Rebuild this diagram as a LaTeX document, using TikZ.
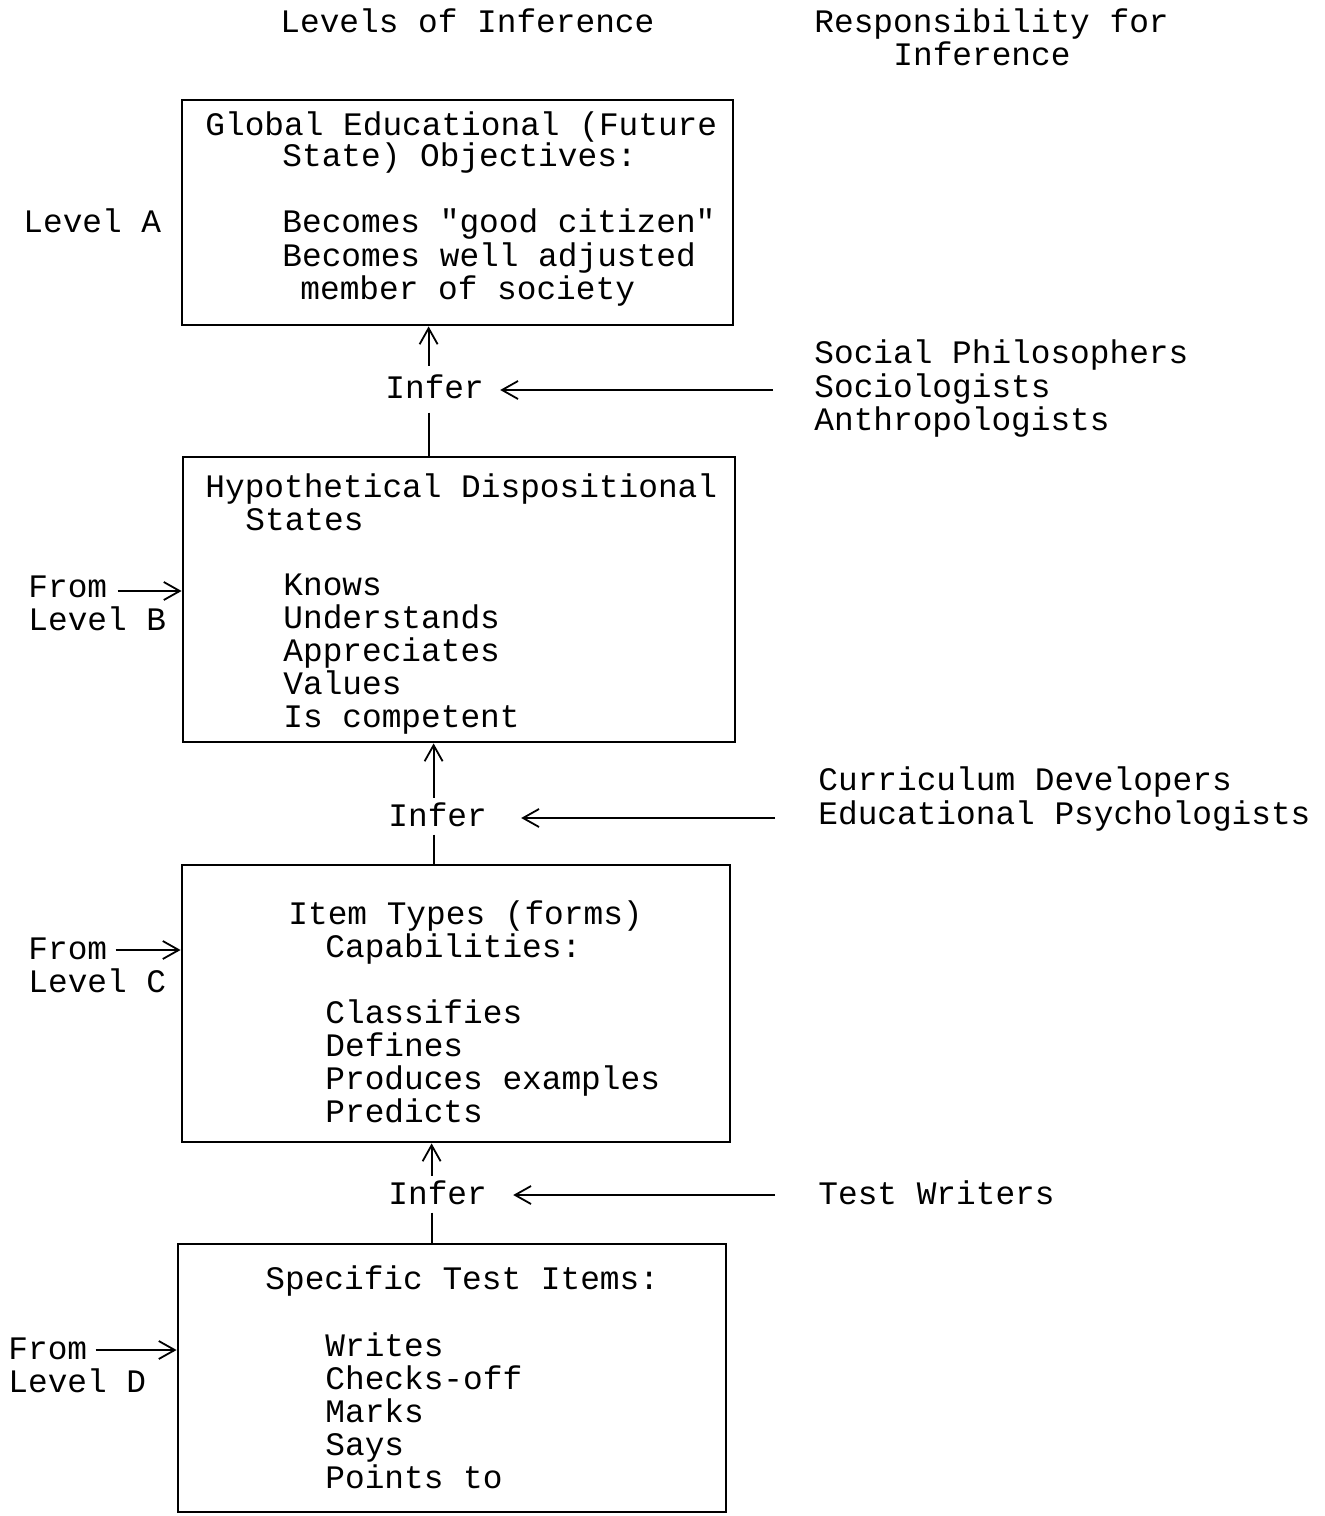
\documentclass[tikz,border=0pt]{standalone}
\usepackage{fontspec}
\newfontfamily\twfont{Liberation Mono}
\usetikzlibrary{arrows.meta}
\newcommand\tl[4]{\node[txt] (#1) at (#2,#3) {#4};}
\begin{document}
\begin{tikzpicture}[x=0.5pt,y=-0.5pt,
  txt/.style={anchor=base west,inner sep=0pt,font=\twfont\fontsize{16.4}{16.4}\selectfont},
  inferstyle/.style={txt,inner ysep=2pt},
  boxst/.style={draw,line width=1.4pt,inner sep=0pt},
  arr/.style={line width=0.9pt,-{Straight Barb[length=8pt,width=9pt,line width=0.9pt]}},
  ln/.style={line width=1pt}]
\useasboundingbox (0,0) rectangle (1325,1516);
% headings
\tl{hLevels}{280}{32}{Levels of Inference}
\tl{hResp1}{814}{32}{Responsibility for}
\tl{hResp2}{893}{65}{Inference}
% boxes
\node[boxst,minimum width=275.5pt,minimum height=112.5pt] (boxA) at (457.5,212.5) {};
\node[boxst,minimum width=276pt,minimum height=142.5pt] (boxB) at (459,599.5) {};
\node[boxst,minimum width=274pt,minimum height=138.5pt] (boxC) at (456,1003.5) {};
\node[boxst,minimum width=274pt,minimum height=134pt] (boxD) at (452,1378) {};
% box A text
\tl{a1}{205}{135}{Global Educational (Future}
\tl{a2}{282}{166}{State) Objectives:}
\tl{a3}{282}{232}{Becomes "good citizen"}
\tl{a4}{282}{266}{Becomes well adjusted}
\tl{a5}{300}{299}{member of society}
% box B text
\tl{b1}{205}{497}{Hypothetical Dispositional}
\tl{b2}{245}{530}{States}
\tl{b3}{283}{595}{Knows}
\tl{b4}{283}{628}{Understands}
\tl{b5}{283}{661}{Appreciates}
\tl{b6}{283}{694}{Values}
\tl{b7}{283}{727}{Is competent}
% box C text
\tl{c1}{288}{924}{Item Types (forms)}
\tl{c2}{325}{957}{Capabilities:}
\tl{c3}{325}{1023}{Classifies}
\tl{c4}{325}{1056}{Defines}
\tl{c5}{325}{1089}{Produces examples}
\tl{c6}{325}{1122}{Predicts}
% box D text
\tl{d1}{265}{1289}{Specific Test Items:}
\tl{d2}{325}{1356}{Writes}
\tl{d3}{325}{1389}{Checks-off}
\tl{d4}{325}{1422}{Marks}
\tl{d5}{325}{1455}{Says}
\tl{d6}{325}{1488}{Points to}
% level labels
\tl{levA}{23}{232}{Level A}
\tl{fromB}{28}{597}{From}
\tl{levB}{28}{630}{Level B}
\tl{fromC}{28}{959}{From}
\tl{levC}{28}{992}{Level C}
\tl{fromD}{8}{1359}{From}
\tl{levD}{8}{1392}{Level D}
% responsibility labels
\tl{r1a}{814}{363}{Social Philosophers}
\tl{r1b}{814}{397}{Sociologists}
\tl{r1c}{814}{430}{Anthropologists}
\tl{r2a}{818}{790}{Curriculum Developers}
\tl{r2b}{818}{824}{Educational Psychologists}
\tl{r3a}{818}{1204}{Test Writers}
% infer nodes
\node[inferstyle] (inf1) at (385,398) {Infer};
\node[inferstyle] (inf2) at (388,826) {Infer};
\node[inferstyle] (inf3) at (388,1204) {Infer};
% vertical connectors
\draw[arr] ([xshift=-3pt,yshift=2pt]inf1.north) -- ([xshift=-3pt]inf1.north |- boxA.south);
\draw[ln] ([xshift=-3pt,yshift=-5pt]inf1.south) -- ([xshift=-3pt]inf1.south |- boxB.north);
\draw[arr] ([xshift=-2pt,yshift=0pt]inf2.north) -- ([xshift=-2pt]inf2.north |- boxB.south);
\draw[ln] ([xshift=-2pt,yshift=-2pt]inf2.south) -- ([xshift=-2pt]inf2.south |- boxC.north);
\draw[arr] ([xshift=-3pt,yshift=0pt]inf3.north) -- ([xshift=-3pt]inf3.north |- boxC.south);
\draw[ln] ([xshift=-3pt,yshift=-2pt]inf3.south) -- ([xshift=-3pt]inf3.south |- boxD.north);
% horizontal connectors from responsibility
\coordinate (s1) at (773,390);
\coordinate (s2) at (775,818);
\coordinate (s3) at (775,1195);
\draw[arr,shorten >=8pt] (s1) -- (s1 -| inf1.east);
\draw[arr,shorten >=17pt] (s2) -- (s2 -| inf2.east);
\draw[arr,shorten >=13pt] (s3) -- (s3 -| inf3.east);
% from-level arrows
\draw[arr,shorten <=5pt] (fromB.east |- 0,591) -- (boxB.west |- 0,591);
\draw[arr,shorten <=4pt] (fromC.east |- 0,950) -- (boxC.west |- 0,950);
\draw[arr,shorten <=4pt] (fromD.east |- 0,1350) -- (boxD.west |- 0,1350);
\end{tikzpicture}
\end{document}
